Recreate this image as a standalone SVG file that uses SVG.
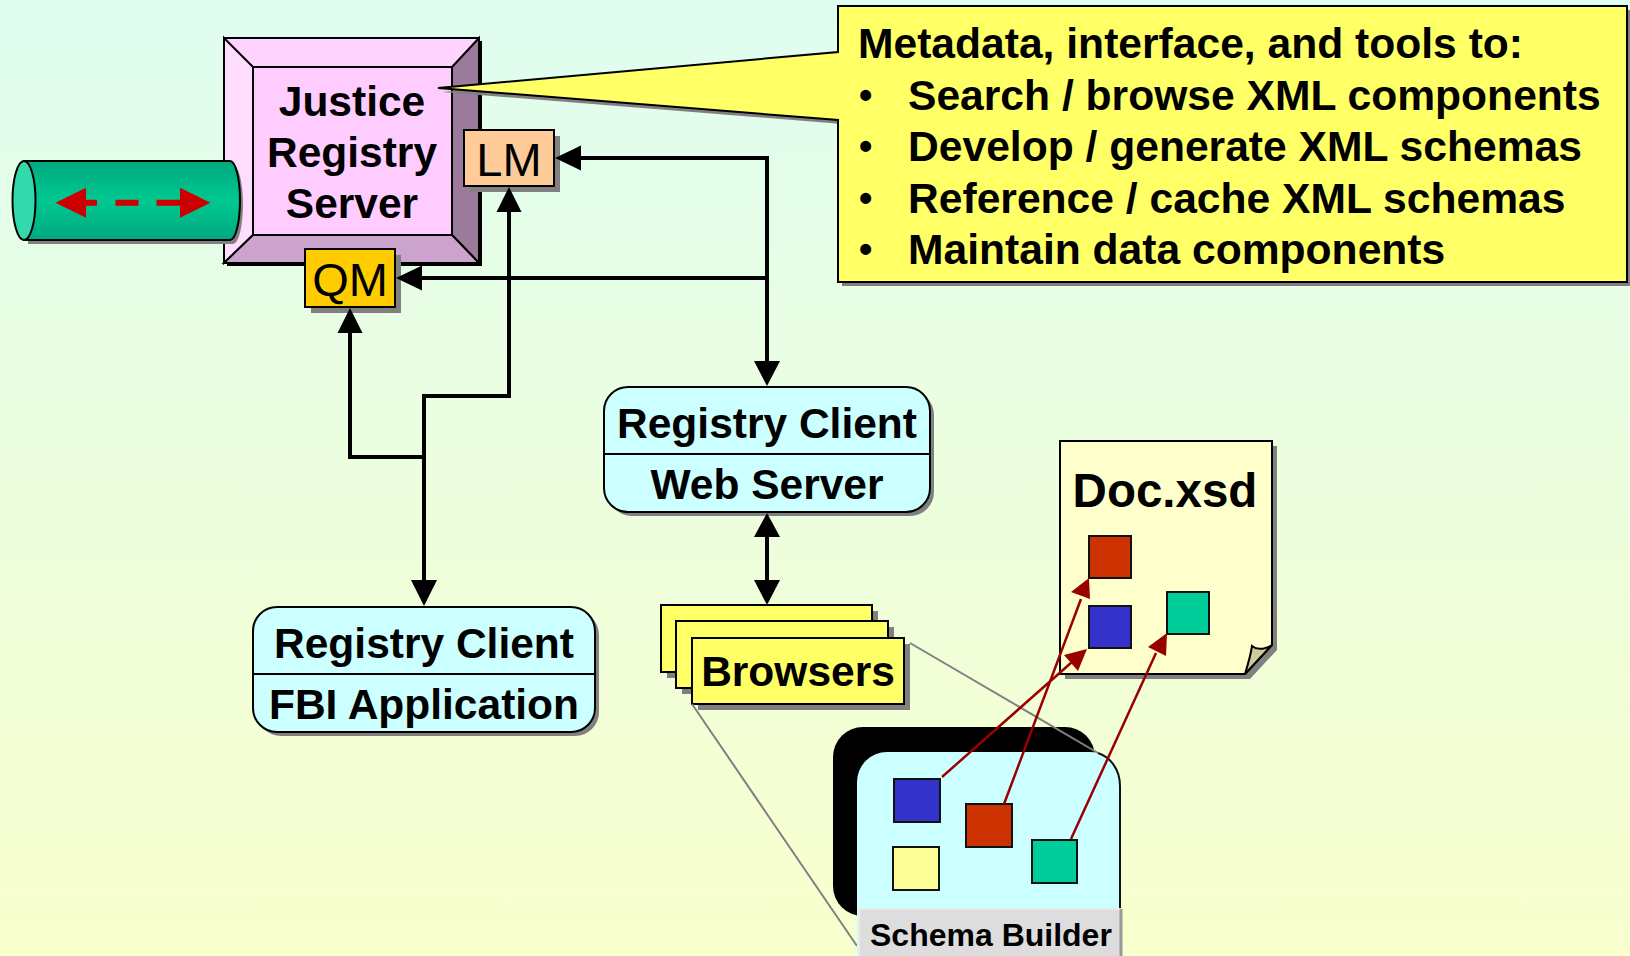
<svg xmlns="http://www.w3.org/2000/svg" width="1630" height="956" viewBox="0 0 1630 956">
<style>
text{font-family:"Liberation Sans",Arial,sans-serif;fill:#000}
.b{font-weight:bold;font-size:42.500px;text-anchor:middle}
.c{font-weight:bold;font-size:42.600px}
.d{font-weight:bold;font-size:38px}
.r{font-size:47px;text-anchor:middle}
.k{stroke:#000;stroke-width:2;stroke-linejoin:miter}
.s{fill:#808080}
.w{fill:none;stroke:#000;stroke-width:4;stroke-linejoin:miter}
.h{fill:#000}
.rl{fill:none;stroke:#990000;stroke-width:2.500}
.rh{fill:#990000}
.g{fill:none;stroke:#808080;stroke-width:2}
.sq{stroke:#111;stroke-width:2}
</style>
<defs>
<linearGradient id="bg" x1="0" y1="0" x2="0" y2="1"><stop offset="0" stop-color="#DFFDF0"/><stop offset="1" stop-color="#F9FFCD"/></linearGradient>
<linearGradient id="cyl" x1="0" y1="0" x2="0" y2="1"><stop offset="0" stop-color="#00A880"/><stop offset=".5" stop-color="#00C890"/><stop offset="1" stop-color="#00A880"/></linearGradient>
</defs>
<rect width="1630" height="956" fill="url(#bg)"/>
<g id="server">
<rect x="227" y="41" width="255" height="225" fill="#000"/>
<rect x="224" y="38" width="255" height="225" fill="#FFD5FF" class="k"/>
<polygon points="224,38 253,67 253,235 224,263" fill="#FFDDFF" class="k"/>
<polygon points="479,38 452,67 452,235 479,263" fill="#9B7A9B" class="k"/>
<polygon points="224,263 253,235 452,235 479,263" fill="#CCA3CC" class="k"/>
<rect x="253" y="67" width="199" height="168" fill="#FFCCFF" class="k"/>
<text class="b" x="352" y="116">Justice</text>
<text class="b" x="352" y="167">Registry</text>
<text class="b" x="352" y="218">Server</text>
</g>
<g id="cylinder">
<path d="M28,165H233A10,39.500 0 0 1 233,244H28Z" class="s"/>
<path d="M24,161H230A10,39.500 0 0 1 230,240H24Z" fill="url(#cyl)" class="k"/>
<ellipse cx="24" cy="200.500" rx="11.500" ry="39.500" fill="#33D9AB" class="k"/>
<path d="M55.500,202.700L86,187.700V199.700H97V205.700H86V217.700ZM115.500,199.700H138.500V205.700H115.500ZM156.500,199.700H180V187.700L210.500,202.700L180,217.700V205.700H156.500Z" fill="#CC0000"/>
</g>
<g id="browsers">
<rect x="667" y="611" width="211" height="67" class="s"/>
<rect x="661" y="605" width="211" height="67" fill="#FFFF66" class="k"/>
<rect x="682" y="627" width="212" height="67" class="s"/>
<rect x="676" y="621" width="212" height="67" fill="#FFFF66" class="k"/>
<rect x="698" y="644" width="212" height="66" class="s"/>
<rect x="692" y="638" width="212" height="66" fill="#FFFF66" class="k"/>
<text class="b" x="798" y="686" style="font-size:42.500px">Browsers</text>
</g>
<g id="schema-builder">
<path class="g" d="M692,704L857,946"/>
<rect x="833" y="727" width="262" height="189" rx="30" fill="#000"/>
<path d="M857,956V782A30,30 0 0 1 887,752H1090A30,30 0 0 1 1120,782V956Z" fill="#CCFFFF"/>
<path d="M1098,753C1110,757 1120,769 1120,786V910" fill="none" stroke="#111" stroke-width="2"/>
<path class="g" d="M910,643L1098,753"/>
<rect id="sb-blue" x="894" y="779" width="46" height="43" fill="#3333CC" class="sq"/>
<rect id="sb-red" x="966" y="804" width="46" height="43" fill="#CC3300" class="sq"/>
<rect id="sb-teal" x="1032" y="840" width="45" height="43" fill="#00CC99" class="sq"/>
<rect id="sb-yellow" x="893" y="847" width="46" height="43" fill="#FFFF99" class="sq"/>
<rect x="859" y="908" width="263" height="48" fill="#DDDDDD"/>
<path d="M859,956V909H1121" fill="none" stroke="#EAEAEA" stroke-width="2"/>
<path d="M1121,909V956" fill="none" stroke="#999" stroke-width="3"/>
<text x="870" y="946" style="font-weight:bold;font-size:32px">Schema Builder</text>
</g>
<g id="doc">
<path d="M1065,446H1277V650L1250,679H1065Z" class="s"/>
<path d="M1060,441H1272V645L1245,674H1060Z" fill="#FFFFCC" class="k"/>
<path d="M1245,674C1249,661 1251,653 1252,646C1258,651 1265,649 1272,645Z" fill="#CCCC99" class="k"/>
<text x="1165" y="507" style="font-weight:bold;font-size:47.500px;text-anchor:middle">Doc.xsd</text>
<rect x="1089" y="536" width="42" height="42" fill="#CC3300" class="sq"/>
<rect x="1089" y="606" width="42" height="42" fill="#3333CC" class="sq"/>
<rect x="1167" y="592" width="42" height="42" fill="#00CC99" class="sq"/>
</g>
<g id="lm">
<rect x="470" y="136" width="90" height="56" class="s"/>
<rect x="464" y="130" width="90" height="56" fill="#FFCC99" class="k"/>
<text class="r" x="509" y="176">LM</text>
</g>
<g id="qm">
<rect x="311" y="255" width="90" height="58" class="s"/>
<rect x="305" y="249" width="90" height="58" fill="#FFCC00" class="k"/>
<text class="r" x="350" y="296">QM</text>
</g>
<g id="client-web">
<rect x="608" y="391" width="326" height="125" rx="24" class="s"/>
<rect x="604" y="387" width="326" height="125" rx="24" fill="#CCFFFF" class="k"/>
<path d="M604,454H930" stroke="#000" stroke-width="2"/>
<text class="b" x="767" y="438">Registry Client</text>
<text class="b" x="767" y="499">Web Server</text>
</g>
<g id="client-fbi">
<rect x="257" y="611" width="342" height="125" rx="24" class="s"/>
<rect x="253" y="607" width="342" height="125" rx="24" fill="#CCFFFF" class="k"/>
<path d="M253,674H595" stroke="#000" stroke-width="2"/>
<text class="b" x="424" y="658">Registry Client</text>
<text class="b" x="424" y="719">FBI Application</text>
</g>
<g id="connectors">
<path class="w" d="M580,158H767V362"/>
<path class="w" d="M421,278H767"/>
<path class="w" d="M350,333V457H424"/>
<path class="w" d="M509,212V396H424V582"/>
<path class="w" d="M767,537V580"/>
<path class="h" d="M555,158L581,145.500V170.500Z"/>
<path class="h" d="M396,278L422,265.500V290.500Z"/>
<path class="h" d="M350,308L337.500,333H362.500Z"/>
<path class="h" d="M509,187L496.500,212H521.500Z"/>
<path class="h" d="M424,606L411,580H437Z"/>
<path class="h" d="M767,386L754,361H780Z"/>
<path class="h" d="M767,513L754,537H780Z"/>
<path class="h" d="M767,605L754,580H780Z"/>
<path class="rl" d="M942,777L1072,662"/>
<path class="rl" d="M1004,804L1081,599"/>
<path class="rl" d="M1071,839L1156,653"/>
<path class="rh" d="M1087,649L1078,671L1064,655Z"/>
<path class="rh" d="M1089,578L1090,599L1071,592Z"/>
<path class="rh" d="M1167,633L1166,656L1148,647Z"/>
</g>
<g id="callout">
<path d="M842,10H1631V286H842V124L442,92L842,56Z" class="s"/>
<path d="M838,6H1627V282H838V120L438,88L838,52Z" fill="#FFFF66" class="k"/>
<text class="c" x="858" y="58">Metadata, interface, and tools to:</text>
<text class="d" x="859" y="108">•</text><text class="c" x="908" y="110">Search / browse XML components</text>
<text class="d" x="859" y="159">•</text><text class="c" x="908" y="161">Develop / generate XML schemas</text>
<text class="d" x="859" y="211">•</text><text class="c" x="908" y="213">Reference / cache XML schemas</text>
<text class="d" x="859" y="262">•</text><text class="c" x="908" y="264">Maintain data components</text>
</g>
</svg>
